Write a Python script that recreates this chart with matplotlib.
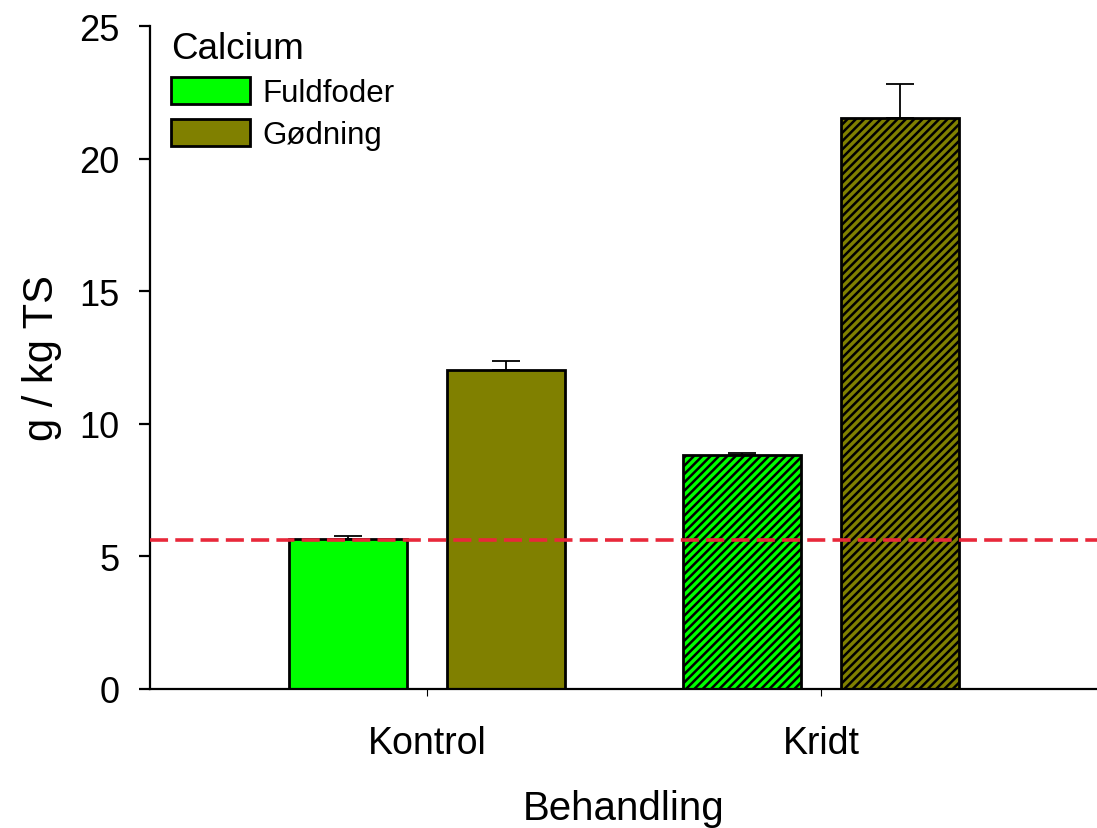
import numpy as np
import matplotlib.pyplot as plt
from matplotlib.patches import Patch

plt.rcParams['font.family'] = ['Liberation Sans', 'DejaVu Sans']
plt.rcParams['hatch.linewidth'] = 1.8

categories = ['Kontrol', 'Kridt']
fuldfoder = [5.66, 8.82]
fuldfoder_err = [0.11, 0.07]
goedning = [12.03, 21.53]
goedning_err = [0.34, 1.27]
reference_level = 5.62

x = np.arange(len(categories))
width = 0.30
offset = 0.2

fig = plt.figure(figsize=(10.97, 8.29), dpi=100)
ax = fig.add_axes([0.1367, 0.1677, 0.8633, 0.7997])

hatches = [None, '////']
for i in range(len(categories)):
    ax.bar(x[i] - offset, fuldfoder[i], width, color='#00ff00', edgecolor='black',
           linewidth=2, hatch=hatches[i], zorder=2)
    ax.bar(x[i] + offset, goedning[i], width, color='#808000', edgecolor='black',
           linewidth=2, hatch=hatches[i], zorder=2)
ax.errorbar(x - offset, fuldfoder, yerr=[np.zeros(2), fuldfoder_err], fmt='none',
            ecolor='black', elinewidth=1.3, capsize=10, capthick=1.3, zorder=1)
ax.errorbar(x + offset, goedning, yerr=[np.zeros(2), goedning_err], fmt='none',
            ecolor='black', elinewidth=1.3, capsize=10, capthick=1.3, zorder=1)

ax.axhline(reference_level, color='#e8283a', ls=(0, (5, 2)), lw=2.6, zorder=3)

ax.set_xlim(-0.703, 1.70)
ax.set_ylim(0, 25)
ax.set_yticks([0, 5, 10, 15, 20, 25])
ax.set_xticks(x)
ax.set_xticklabels(categories)
ax.spines['top'].set_visible(False)
ax.spines['right'].set_visible(False)
ax.spines['left'].set_linewidth(1.6)
ax.spines['bottom'].set_linewidth(1.6)
ax.tick_params(axis='y', labelsize=26, length=8, width=1.6, pad=14)
ax.tick_params(axis='x', labelsize=27, length=5, width=0.8, pad=21)
ax.set_xlabel('Behandling', fontsize=29, labelpad=20)
ax.set_ylabel('g / kg TS', fontsize=30, labelpad=12)

handles = [Patch(facecolor='#00ff00', edgecolor='black', linewidth=2),
           Patch(facecolor='#808000', edgecolor='black', linewidth=2)]
leg = ax.legend(handles, ['Fuldfoder', 'Gødning'], title='Calcium', loc='upper left',
                bbox_to_anchor=(-0.007, 1.035), frameon=False, fontsize=22.5,
                title_fontsize=26.5, handlelength=2.5, handleheight=0.95,
                labelspacing=0.35, handletextpad=0.4)
leg._legend_box.align = 'left'

fig.savefig('out.png', dpi=100)
